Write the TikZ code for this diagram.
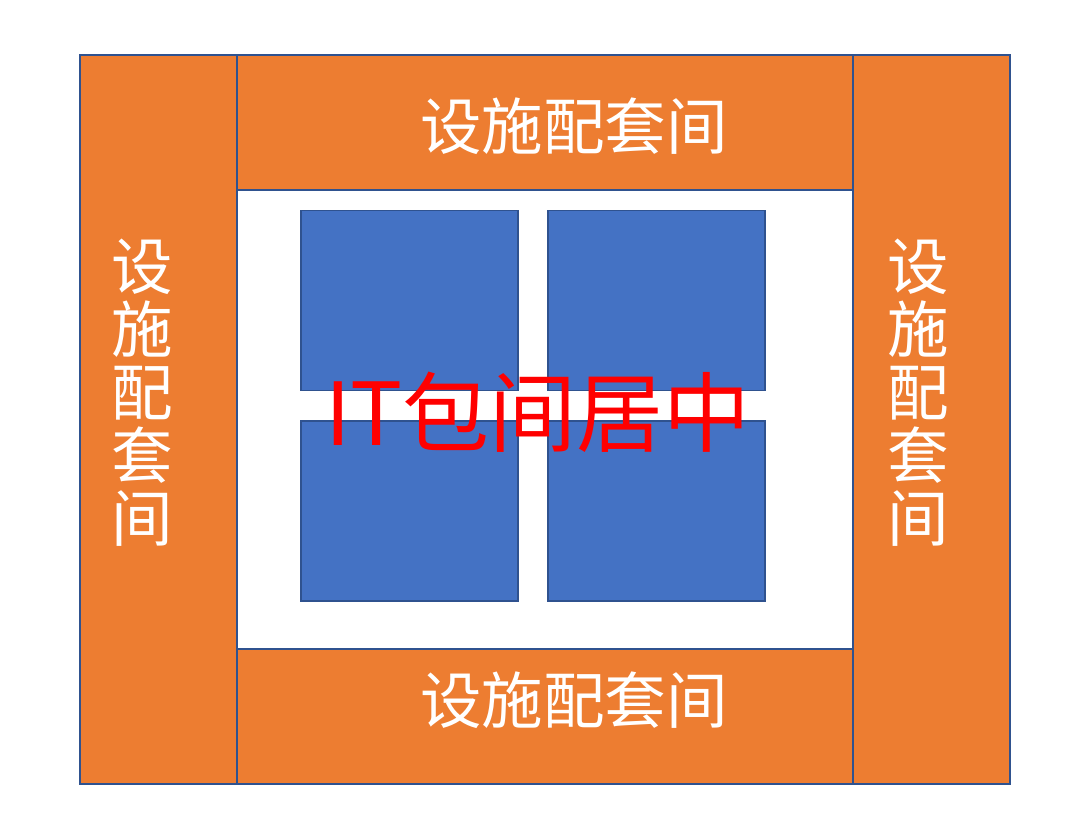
\documentclass[tikz,border=0pt]{standalone}
\usepackage{fontspec}
\setmainfont{Noto Sans CJK SC}
\definecolor{roomorange}{HTML}{ED7D31}
\definecolor{rackblue}{HTML}{4472C4}
\definecolor{edgeblue}{HTML}{2F528F}

\begin{document}
\begin{tikzpicture}[x=1pt,y=-1pt]
\tikzstyle{room}=[rectangle,draw=edgeblue,line width=2.2pt,fill=roomorange,inner sep=0,outer sep=0]
\tikzstyle{rack}=[rectangle,draw=edgeblue,line width=1.4pt,fill=rackblue,minimum width=217pt,minimum height=180pt,inner sep=0]
\tikzstyle{roomlabel}=[text=white,font=\fontsize{61.5}{63}\selectfont,inner sep=0,align=center]
\useasboundingbox (0,0) rectangle (1080,822);
% rooms around the IT area
\node[room,minimum width=157pt,minimum height=729pt] (west) at (158.5,419.5) {};
\node[room,minimum width=157pt,minimum height=729pt] (east) at (931.5,419.5) {};
\node[room,minimum width=616pt,minimum height=135pt] (north) at (545,122.5) {};
\node[room,minimum width=616pt,minimum height=135pt] (south) at (545,716.5) {};
% racks
\node[rack] (r1) at (409.5,300.5) {};
\node[rack] (r2) at (656.5,300.5) {};
\node[rack] (r3) at (409.5,511) {};
\node[rack] (r4) at (656.5,511) {};
% labels
\node[roomlabel] (lw) at (142,392.5) {设\\施\\配\\套\\间};
\node[roomlabel] (le) at (918,392.5) {设\\施\\配\\套\\间};
\node[roomlabel] (ln) at (574,126) {设施配套间};
\node[roomlabel] (ls) at (574,700) {设施配套间};
\node[text=red,font=\fontsize{87}{90}\selectfont,inner sep=0] (it) at (538,412) {IT包间居中};
\end{tikzpicture}
\end{document}
